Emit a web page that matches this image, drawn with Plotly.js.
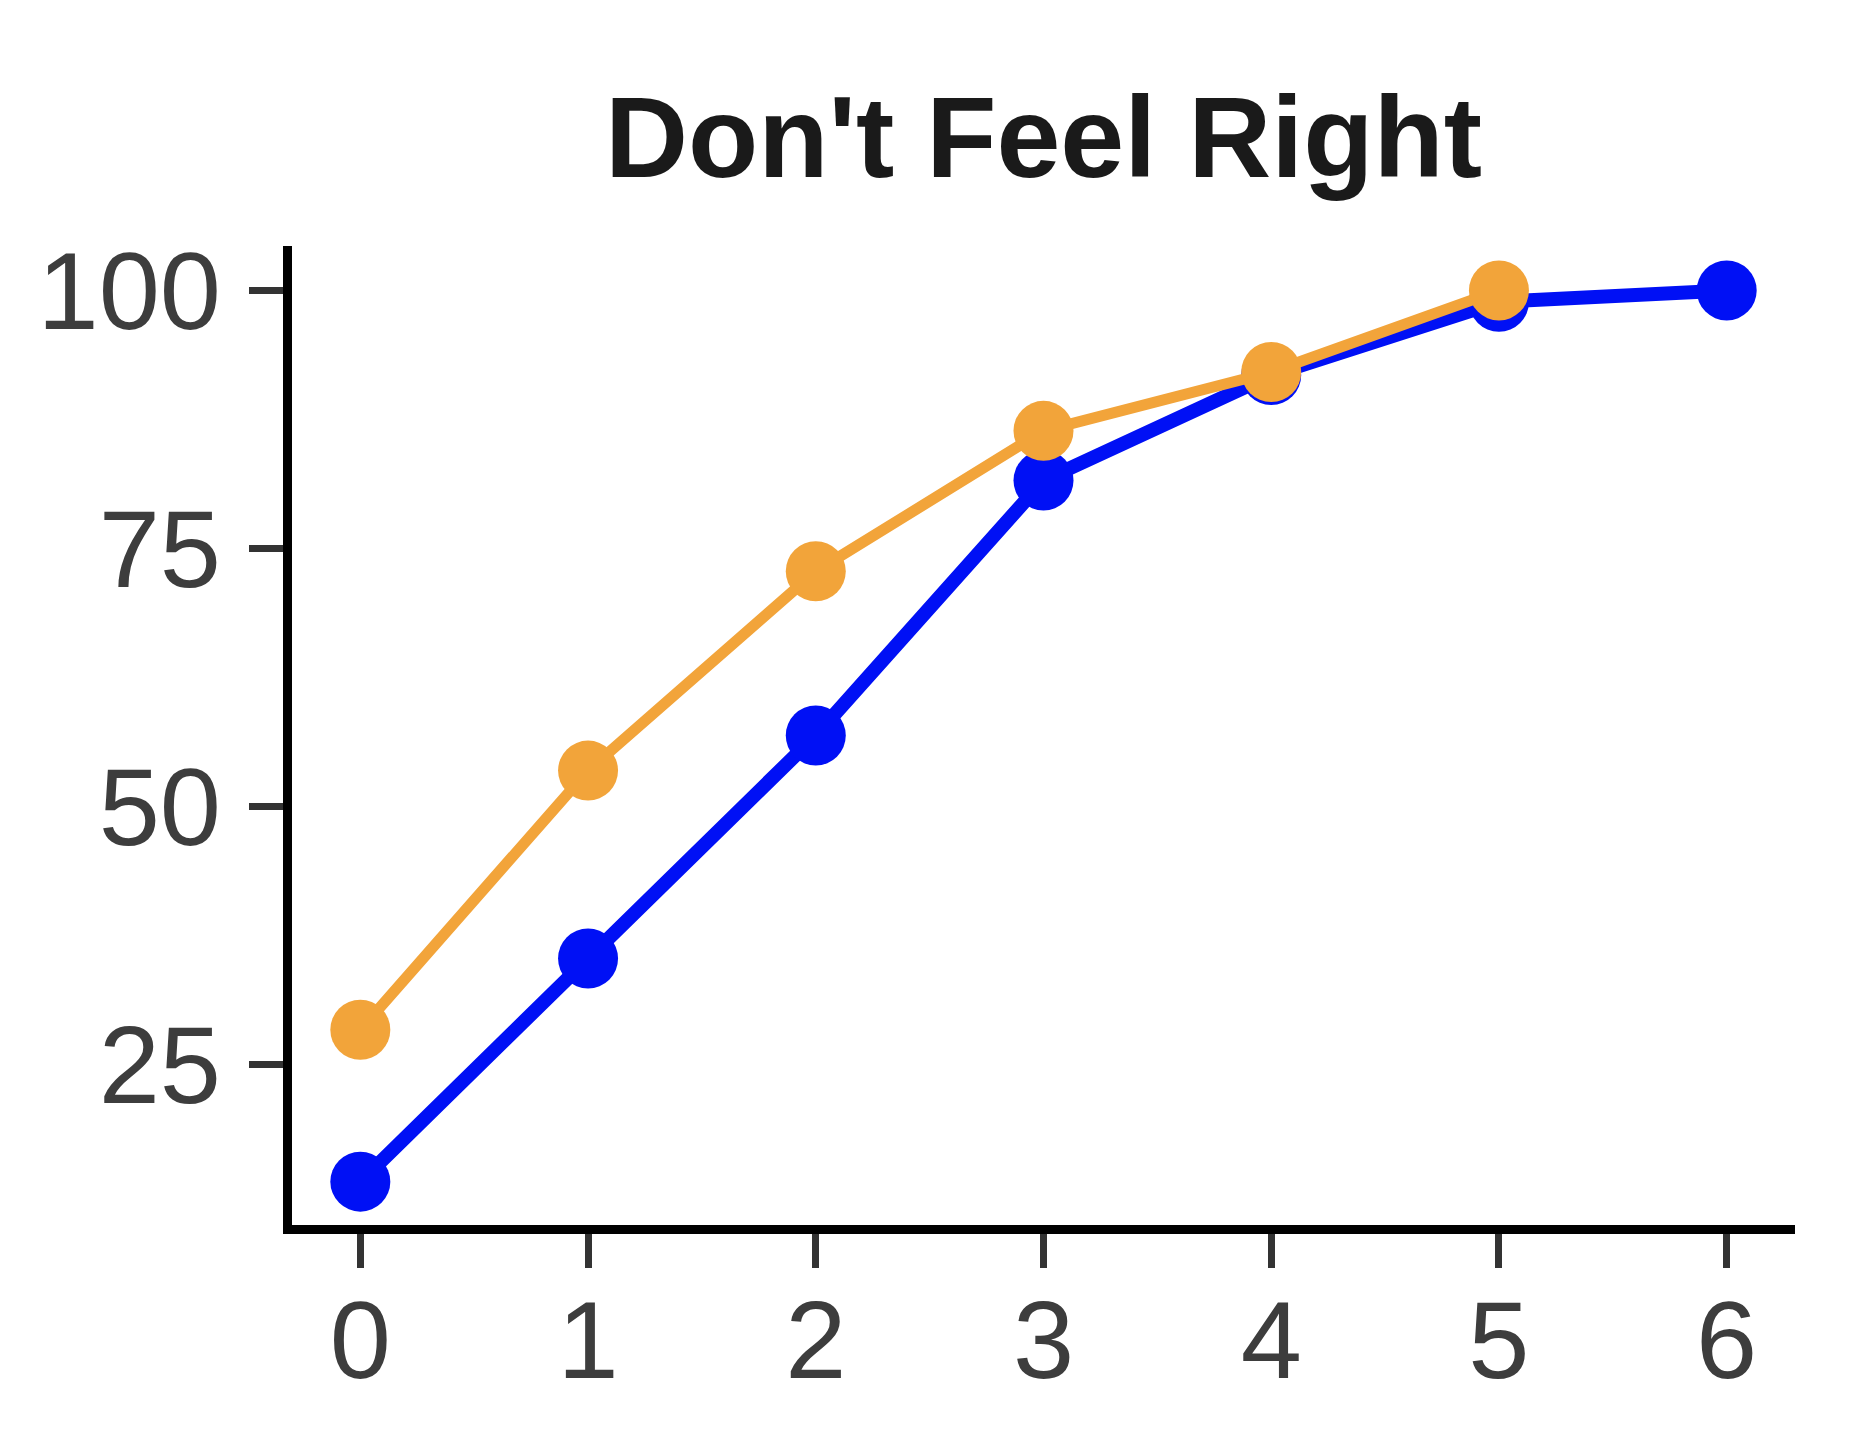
<!DOCTYPE html>
<html>
<head>
<meta charset="utf-8">
<script src="https://cdn.plot.ly/plotly-3.0.1.min.js"></script>
<style>
  html, body { margin: 0; padding: 0; background: #ffffff; }
  #chart { width: 1871px; height: 1453px; }
</style>
</head>
<body>
<div id="chart"></div>
<script>
const chartTitle = "Don't Feel Right";
const xValues = [0, 1, 2, 3, 4, 5, 6];
const blueValues = [13.7, 35.3, 56.9, 81.6, 91.8, 98.9, 100];
const orangeX = [0, 1, 2, 3, 4, 5];
const orangeValues = [28.4, 53.5, 72.8, 86.4, 92.1, 100];
const xTickVals = [0, 1, 2, 3, 4, 5, 6];
const yTickVals = [25, 50, 75, 100];

const blueTrace = {
  x: xValues, y: blueValues, type: 'scatter', mode: 'lines+markers',
  line: { color: '#0010f5', width: 14 },
  marker: { color: '#0010f5', size: 60 },
  showlegend: false, hoverinfo: 'skip'
};
const orangeTrace = {
  x: orangeX, y: orangeValues, type: 'scatter', mode: 'lines+markers',
  line: { color: '#f2a43a', width: 11 },
  marker: { color: '#f2a43a', size: 60 },
  showlegend: false, hoverinfo: 'skip'
};

const tickFont = { family: 'Liberation Sans, Arial, Helvetica, sans-serif', size: 110, color: '#3d3d3d' };

const layout = {
  width: 1871, height: 1453,
  paper_bgcolor: '#ffffff', plot_bgcolor: '#ffffff',
  margin: { l: 292, r: 76, t: 246, b: 228 },
  title: {
    text: chartTitle,
    font: { family: 'Liberation Sans, Arial, Helvetica, sans-serif', size: 115, color: '#1a1a1a', weight: 'bold' },
    xref: 'paper', x: 0.5, xanchor: 'center',
    yref: 'container', y: 0.906, yanchor: 'middle'
  },
  xaxis: {
    range: [-0.3, 6.3], tickvals: xTickVals, ticktext: xTickVals.map(String),
    showgrid: false, zeroline: false,
    showline: true, linecolor: '#000000', linewidth: 9,
    ticks: 'outside', ticklen: 34, tickwidth: 7, tickcolor: '#333333',
    tickfont: tickFont, ticklabelstandoff: -22
  },
  yaxis: {
    range: [9.5, 104.3], tickvals: yTickVals, ticktext: yTickVals.map(String),
    showgrid: false, zeroline: false,
    showline: true, linecolor: '#000000', linewidth: 9,
    ticks: 'outside', ticklen: 34, tickwidth: 7, tickcolor: '#333333',
    tickfont: tickFont, ticklabelstandoff: 6
  }
};

Plotly.newPlot('chart', [blueTrace, orangeTrace], layout, { displayModeBar: false, staticPlot: true });
</script>
</body>
</html>
